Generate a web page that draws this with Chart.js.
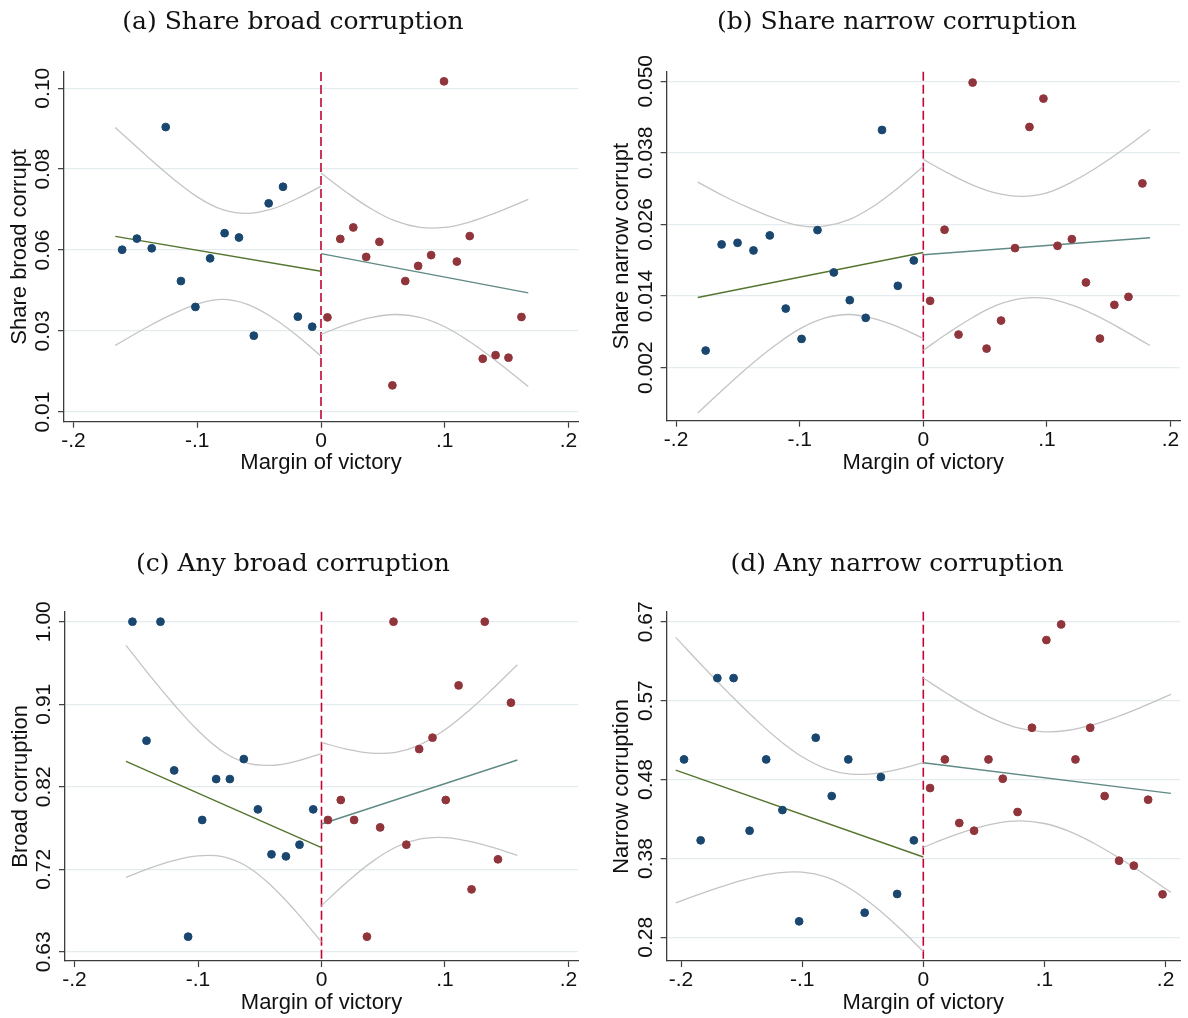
<!DOCTYPE html>
<html>
<head>
<meta charset="utf-8">
<title>Margin of victory and corruption</title>
<script src="https://cdn.jsdelivr.net/npm/chart.js@4.4.1/dist/chart.umd.min.js"></script>
<style>
  body { margin: 0; background: #fff; width: 1188px; height: 1018px; overflow: hidden; position: relative; }
  .panel { position: absolute; width: 594px; height: 540px; }
  .panel canvas { position: absolute; left: 0; top: 0; }
  .panel .ttl { position: absolute; top: 6px; width: 594px; text-align: center; margin: 0;
    font: normal 25px/30px "DejaVu Serif", serif; color: #111; white-space: nowrap; }
  .panel.low .ttl { top: 8px; }
</style>
</head>
<body>
<div class="panel" style="left:0;top:0"><canvas id="c-a" width="594" height="500"></canvas><div class="ttl" style="left:-4px">(a) Share broad corruption</div></div>
<div class="panel" style="left:594px;top:0"><canvas id="c-b" width="594" height="500"></canvas><div class="ttl" style="left:6px">(b) Share narrow corruption</div></div>
<div class="panel low" style="left:0;top:540px"><canvas id="c-c" width="594" height="500"></canvas><div class="ttl" style="left:-4px">(c) Any broad corruption</div></div>
<div class="panel low" style="left:594px;top:540px"><canvas id="c-d" width="594" height="500"></canvas><div class="ttl" style="left:6px">(d) Any narrow corruption</div></div>
<script>
// shared x axis: margin of victory
var X_TICKS = [-0.2, -0.1, 0, 0.1, 0.2];
var X_TICK_LABELS = ['-.2', '-.1', '0', '.1', '.2'];

// (a) share broad corrupt
var broadShareLoseX = [-0.1607, -0.1488, -0.1368, -0.1255, -0.1132, -0.1015, -0.0896, -0.0779, -0.0663, -0.0543, -0.0423, -0.0307, -0.0187, -0.0071];
var broadShareLoseY = [0.0551, 0.0582, 0.0555, 0.0892, 0.0464, 0.0392, 0.0527, 0.0597, 0.0585, 0.0312, 0.0680, 0.0726, 0.0365, 0.0337];
var broadShareWinX = [0.0052, 0.0156, 0.0261, 0.0365, 0.0472, 0.0577, 0.0681, 0.0785, 0.0890, 0.0994, 0.1098, 0.1202, 0.1307, 0.1411, 0.1515, 0.1620];
var broadShareWinY = [0.0363, 0.0581, 0.0613, 0.0531, 0.0573, 0.0174, 0.0464, 0.0506, 0.0536, 0.1019, 0.0518, 0.0589, 0.0248, 0.0258, 0.0251, 0.0364];
var broadShareFitLeftX = [-0.1663, 0];
var broadShareFitLeftY = [0.0588, 0.0491];
var broadShareFitRightX = [0, 0.1675];
var broadShareFitRightY = [0.0540, 0.0431];
var broadShareCiLeftX = [-0.1663, -0.14, -0.12, -0.10, -0.08, -0.06, -0.04, -0.02, 0];
var broadShareCiLeftHi = [0.0891, 0.0809, 0.0750, 0.0698, 0.0663, 0.0652, 0.0664, 0.0692, 0.0727];
var broadShareCiLeftLo = [0.0285, 0.0337, 0.0372, 0.0400, 0.0413, 0.0400, 0.0364, 0.0314, 0.0255];
var broadShareCiRightX = [0, 0.02, 0.04, 0.06, 0.08, 0.10, 0.12, 0.14, 0.1675];
var broadShareCiRightHi = [0.0764, 0.0712, 0.0666, 0.0631, 0.0613, 0.0613, 0.0628, 0.0652, 0.0691];
var broadShareCiRightLo = [0.0316, 0.0342, 0.0362, 0.0371, 0.0363, 0.0337, 0.0296, 0.0246, 0.0171];
var broadShareTicks = [0.01, 0.0325, 0.055, 0.0775, 0.10];
var broadShareTickLabels = ['0.01', '0.03', '0.06', '0.08', '0.10'];

// (b) share narrow corrupt
var narrowShareLoseX = [-0.1761, -0.1632, -0.1503, -0.1374, -0.1242, -0.1113, -0.0985, -0.0856, -0.0724, -0.0595, -0.0466, -0.0334, -0.0206, -0.0077];
var narrowShareLoseY = [0.00486, 0.02265, 0.02292, 0.02164, 0.02416, 0.01190, 0.00681, 0.02505, 0.01795, 0.01330, 0.01034, 0.04183, 0.01571, 0.01996];
var narrowShareWinX = [0.0055, 0.0172, 0.0285, 0.0399, 0.0512, 0.0629, 0.0742, 0.0859, 0.0972, 0.1086, 0.1202, 0.1316, 0.1429, 0.1546, 0.1660, 0.1773];
var narrowShareWinY = [0.01319, 0.02511, 0.00754, 0.04978, 0.00519, 0.00989, 0.02203, 0.04234, 0.04709, 0.02242, 0.02354, 0.01627, 0.00687, 0.01252, 0.01386, 0.03288];
var narrowShareFitLeftX = [-0.1825, 0];
var narrowShareFitLeftY = [0.01375, 0.02130];
var narrowShareFitRightX = [0, 0.1834];
var narrowShareFitRightY = [0.02091, 0.02376];
var narrowShareCiLeftX = [-0.1825, -0.16, -0.14, -0.12, -0.10, -0.08, -0.06, -0.04, -0.02, 0];
var narrowShareCiLeftHi = [0.0331, 0.0306, 0.0287, 0.0270, 0.0258, 0.0257, 0.0268, 0.0291, 0.0322, 0.0357];
var narrowShareCiLeftLo = [-0.0056, -0.0013, 0.0024, 0.0057, 0.0085, 0.0103, 0.0109, 0.0102, 0.0088, 0.0069];
var narrowShareCiRightX = [0, 0.02, 0.04, 0.06, 0.08, 0.10, 0.12, 0.14, 0.16, 0.1834];
var narrowShareCiRightHi = [0.0369, 0.0346, 0.0326, 0.0312, 0.0307, 0.0313, 0.0331, 0.0355, 0.0383, 0.0419];
var narrowShareCiRightLo = [0.0049, 0.0078, 0.0104, 0.0125, 0.0136, 0.0136, 0.0125, 0.0107, 0.0085, 0.0057];
var narrowShareTicks = [0.002, 0.014, 0.026, 0.038, 0.050];
var narrowShareTickLabels = ['0.002', '0.014', '0.026', '0.038', '0.050'];

// (c) any broad corruption
var broadAnyLoseX = [-0.1531, -0.1417, -0.1304, -0.1193, -0.1080, -0.0966, -0.0853, -0.0742, -0.0629, -0.0515, -0.0405, -0.0288, -0.0178, -0.0067];
var broadAnyLoseY = [1.0, 0.8666, 1.0, 0.8333, 0.6469, 0.7777, 0.8236, 0.8236, 0.8460, 0.7896, 0.7392, 0.7369, 0.7500, 0.7896];
var broadAnyWinX = [0.0052, 0.0156, 0.0264, 0.0368, 0.0475, 0.0583, 0.0687, 0.0791, 0.0899, 0.1006, 0.1110, 0.1215, 0.1322, 0.1429, 0.1534];
var broadAnyWinY = [0.7777, 0.8001, 0.7777, 0.6469, 0.7694, 1.0, 0.7500, 0.8572, 0.8700, 0.8001, 0.9286, 0.6999, 1.0, 0.7336, 0.9092];
var broadAnyFitLeftX = [-0.1583, 0];
var broadAnyFitLeftY = [0.8434, 0.7466];
var broadAnyFitRightX = [0, 0.1586];
var broadAnyFitRightY = [0.7732, 0.8449];
var broadAnyCiLeftX = [-0.1583, -0.14, -0.12, -0.10, -0.08, -0.06, -0.04, -0.02, 0];
var broadAnyCiLeftHi = [0.9734, 0.9413, 0.9080, 0.8781, 0.8545, 0.8413, 0.8390, 0.8437, 0.8522];
var broadAnyCiLeftLo = [0.7134, 0.7231, 0.7320, 0.7375, 0.7365, 0.7253, 0.7032, 0.6739, 0.6410];
var broadAnyCiRightX = [0, 0.02, 0.04, 0.06, 0.08, 0.10, 0.12, 0.14, 0.1586];
var broadAnyCiRightHi = [0.8647, 0.8571, 0.8527, 0.8535, 0.8622, 0.8789, 0.9011, 0.9266, 0.9517];
var broadAnyCiRightLo = [0.6817, 0.7073, 0.7299, 0.7471, 0.7564, 0.7579, 0.7537, 0.7464, 0.7381];
var broadAnyTicks = [0.63, 0.7225, 0.815, 0.9075, 1.0];
var broadAnyTickLabels = ['0.63', '0.72', '0.82', '0.91', '1.00'];

// (d) any narrow corruption
var narrowAnyLoseX = [-0.1975, -0.1838, -0.1700, -0.1566, -0.1434, -0.1297, -0.1163, -0.1025, -0.0888, -0.0756, -0.0619, -0.0484, -0.0350, -0.0216, -0.0078];
var narrowAnyLoseY = [0.4999, 0.3999, 0.6004, 0.6004, 0.4118, 0.4999, 0.4373, 0.2998, 0.5267, 0.4546, 0.4999, 0.3105, 0.4781, 0.3336, 0.3999];
var narrowAnyWinX = [0.0056, 0.0178, 0.0297, 0.0419, 0.0538, 0.0656, 0.0778, 0.0897, 0.1016, 0.1138, 0.1256, 0.1378, 0.1497, 0.1616, 0.1738, 0.1856, 0.1975];
var narrowAnyWinY = [0.4645, 0.4999, 0.4213, 0.4118, 0.4999, 0.4760, 0.4349, 0.5390, 0.6474, 0.6667, 0.4999, 0.5390, 0.4546, 0.3747, 0.3686, 0.4501, 0.3332];
var narrowAnyFitLeftX = [-0.2044, 0];
var narrowAnyFitLeftY = [0.4867, 0.3793];
var narrowAnyFitRightX = [0, 0.2044];
var narrowAnyFitRightY = [0.4958, 0.4579];
var narrowAnyCiLeftX = [-0.2044, -0.18, -0.16, -0.14, -0.12, -0.10, -0.08, -0.06, -0.04, -0.02, 0];
var narrowAnyCiLeftHi = [0.6507, 0.6118, 0.5809, 0.5516, 0.5250, 0.5031, 0.4883, 0.4818, 0.4825, 0.4878, 0.4960];
var narrowAnyCiLeftLo = [0.3227, 0.3360, 0.3459, 0.3542, 0.3596, 0.3605, 0.3543, 0.3398, 0.3181, 0.2918, 0.2626];
var narrowAnyCiRightX = [0, 0.02, 0.04, 0.06, 0.08, 0.10, 0.12, 0.14, 0.16, 0.18, 0.2044];
var narrowAnyCiRightHi = [0.6004, 0.5810, 0.5633, 0.5485, 0.5381, 0.5339, 0.5359, 0.5427, 0.5526, 0.5644, 0.5802];
var narrowAnyCiRightLo = [0.3912, 0.4032, 0.4135, 0.4209, 0.4239, 0.4207, 0.4113, 0.3969, 0.3796, 0.3604, 0.3356];
var narrowAnyTicks = [0.28, 0.3775, 0.475, 0.5725, 0.67];
var narrowAnyTickLabels = ['0.28', '0.38', '0.48', '0.57', '0.67'];

var NAVY = '#1a476f';
var MAROON = '#90353b';
var FOREST = '#55752f';
var TEAL = '#5f8a85';
var CI_GRAY = '#c4c4c4';
var CRANBERRY = '#c10534';
var GRID = '#e4ecee';
var AXIS = '#3c3c3c';
var SANS = '"Liberation Sans", Arial, sans-serif';
var CANVAS_H = 500;

Chart.defaults.font.family = SANS;
Chart.defaults.color = '#111';

function pts(xs, ys) {
  return xs.map(function (x, i) { return { x: x, y: ys[i] }; });
}

function dots(xs, ys, color) {
  return {
    data: pts(xs, ys), backgroundColor: color, borderColor: color,
    pointRadius: 3.9, pointBorderWidth: 1, showLine: false
  };
}

// straight fit lines get no tension, the band edges a soft spline
function curve(xs, ys, color, width, smooth) {
  return {
    data: pts(xs, ys), borderColor: color, borderWidth: width, pointRadius: 0,
    showLine: true, fill: false, tension: smooth ? 0.4 : 0
  };
}

// dashed cutoff at zero margin
var zeroLine = {
  id: 'zeroLine',
  beforeDatasetsDraw: function (chart) {
    var ctx = chart.ctx, area = chart.chartArea;
    var px = chart.scales.x.getPixelForValue(0);
    ctx.save();
    ctx.strokeStyle = CRANBERRY;
    ctx.lineWidth = 1.6;
    ctx.setLineDash([9, 4]);
    ctx.beginPath();
    ctx.moveTo(px, area.top);
    ctx.lineTo(px, area.bottom);
    ctx.stroke();
    ctx.restore();
  }
};

// y tick labels are drawn turned upright, centred on each tick
var uprightTicks = {
  id: 'uprightTicks',
  afterDraw: function (chart, args, opts) {
    var ctx = chart.ctx, ys = chart.scales.y;
    var cx = chart.chartArea.left - 20.5;
    ctx.save();
    ctx.font = '21px ' + SANS;
    ctx.fillStyle = '#111';
    ctx.textAlign = 'center';
    ctx.textBaseline = 'middle';
    opts.values.forEach(function (v, i) {
      ctx.save();
      ctx.translate(cx, ys.getPixelForValue(v));
      ctx.rotate(-Math.PI / 2);
      ctx.fillText(opts.labels[i], 0, 0);
      ctx.restore();
    });
    ctx.restore();
  }
};

function drawPanel(id, box, xRange, yRange, yTicks, yLabels, yTitle, sets) {
  var ctx = document.getElementById(id).getContext('2d');
  new Chart(ctx, {
    type: 'scatter',
    data: { datasets: sets },
    plugins: [zeroLine, uprightTicks],
    options: {
      responsive: false,
      animation: false,
      devicePixelRatio: 1,
      layout: { padding: { top: box.top, right: 594 - box.right, bottom: 0, left: 0 } },
      plugins: {
        legend: { display: false },
        tooltip: { enabled: false },
        uprightTicks: { values: yTicks, labels: yLabels }
      },
      scales: {
        x: {
          type: 'linear', min: xRange[0], max: xRange[1],
          afterBuildTicks: function (s) { s.ticks = X_TICKS.map(function (v) { return { value: v }; }); },
          afterFit: function (s) { s.height = CANVAS_H - box.bottom; s.paddingLeft = 0; s.paddingRight = 0; },
          border: { display: true, color: AXIS, width: 1.3 },
          grid: { drawOnChartArea: false, drawTicks: true, tickLength: 6, tickColor: AXIS, tickWidth: 1.2 },
          ticks: {
            padding: 1, maxRotation: 0, autoSkip: false, font: { size: 21 }, color: '#111',
            callback: function (v, i) { return X_TICK_LABELS[i]; }
          },
          title: { display: true, text: 'Margin of victory', font: { size: 22 }, color: '#111', padding: { top: 0, bottom: 23.8 } }
        },
        y: {
          type: 'linear', min: yRange[0], max: yRange[1],
          afterBuildTicks: function (s) { s.ticks = yTicks.map(function (v) { return { value: v }; }); },
          afterFit: function (s) { s.width = box.left; },
          border: { display: true, color: AXIS, width: 1.3 },
          grid: { color: GRID, lineWidth: 1.3, drawTicks: true, tickLength: 6, tickColor: AXIS, tickWidth: 1.2 },
          ticks: { display: false },
          title: { display: true, text: yTitle, font: { size: 22 }, color: '#111', padding: { top: box.left - 44.5 - 13.2, bottom: 0 } }
        }
      }
    }
  });
}

function panelSets(loseX, loseY, winX, winY, fLX, fLY, fRX, fRY, cLX, cLHi, cLLo, cRX, cRHi, cRLo) {
  return [
    dots(loseX, loseY, NAVY),
    dots(winX, winY, MAROON),
    curve(fLX, fLY, FOREST, 1.4, false),
    curve(fRX, fRY, TEAL, 1.4, false),
    curve(cLX, cLHi, CI_GRAY, 1.3, true),
    curve(cLX, cLLo, CI_GRAY, 1.3, true),
    curve(cRX, cRHi, CI_GRAY, 1.3, true),
    curve(cRX, cRLo, CI_GRAY, 1.3, true)
  ];
}

drawPanel('c-a', { left: 64, right: 578, top: 72, bottom: 421.7 }, [-0.2077, 0.2077], [0.0073, 0.1045],
  broadShareTicks, broadShareTickLabels, 'Share broad corrupt',
  panelSets(broadShareLoseX, broadShareLoseY, broadShareWinX, broadShareWinY,
    broadShareFitLeftX, broadShareFitLeftY, broadShareFitRightX, broadShareFitRightY,
    broadShareCiLeftX, broadShareCiLeftHi, broadShareCiLeftLo,
    broadShareCiRightX, broadShareCiRightHi, broadShareCiRightLo));

drawPanel('c-b', { left: 72.6, right: 586, top: 71.7, bottom: 420.7 }, [-0.2077, 0.2077], [-0.0069, 0.0516],
  narrowShareTicks, narrowShareTickLabels, 'Share narrow corrupt',
  panelSets(narrowShareLoseX, narrowShareLoseY, narrowShareWinX, narrowShareWinY,
    narrowShareFitLeftX, narrowShareFitLeftY, narrowShareFitRightX, narrowShareFitRightY,
    narrowShareCiLeftX, narrowShareCiLeftHi, narrowShareCiLeftLo,
    narrowShareCiRightX, narrowShareCiRightHi, narrowShareCiRightLo));

drawPanel('c-c', { left: 65, right: 578, top: 71.7, bottom: 421 }, [-0.2077, 0.2077], [0.6196, 1.0112],
  broadAnyTicks, broadAnyTickLabels, 'Broad corruption',
  panelSets(broadAnyLoseX, broadAnyLoseY, broadAnyWinX, broadAnyWinY,
    broadAnyFitLeftX, broadAnyFitLeftY, broadAnyFitRightX, broadAnyFitRightY,
    broadAnyCiLeftX, broadAnyCiLeftHi, broadAnyCiLeftLo,
    broadAnyCiRightX, broadAnyCiRightHi, broadAnyCiRightLo));

drawPanel('c-d', { left: 72.6, right: 586, top: 71.7, bottom: 421 }, [-0.2119, 0.2119], [0.2508, 0.6824],
  narrowAnyTicks, narrowAnyTickLabels, 'Narrow corruption',
  panelSets(narrowAnyLoseX, narrowAnyLoseY, narrowAnyWinX, narrowAnyWinY,
    narrowAnyFitLeftX, narrowAnyFitLeftY, narrowAnyFitRightX, narrowAnyFitRightY,
    narrowAnyCiLeftX, narrowAnyCiLeftHi, narrowAnyCiLeftLo,
    narrowAnyCiRightX, narrowAnyCiRightHi, narrowAnyCiRightLo));
</script>
</body>
</html>
